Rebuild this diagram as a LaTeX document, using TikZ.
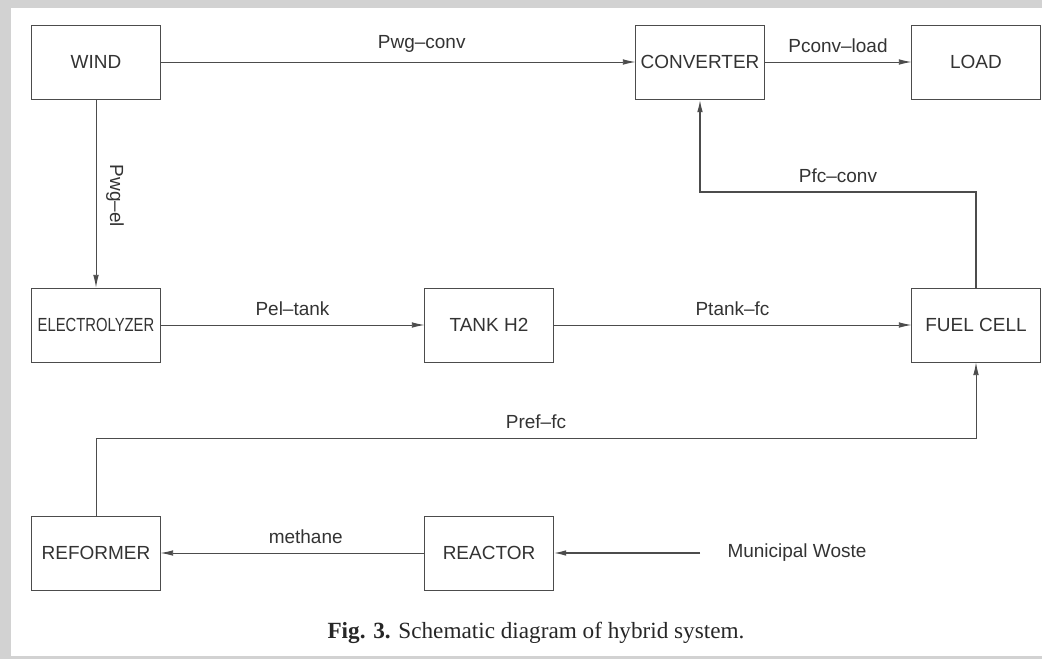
\documentclass[tikz,border=0pt]{standalone}
\usepackage{fontspec}
\setmainfont{Liberation Sans}
\newfontfamily\captionface{Liberation Serif}
\usetikzlibrary{arrows.meta}

\tikzset{
  unit/.style={draw=black!70, line width=0.7pt, minimum width=3.2cm,
    minimum height=1.85cm, inner sep=0pt, text=black!80,
    font=\fontsize{13.5}{16}\selectfont},
  flow/.style={draw=black!70, line width=0.6pt,
    -{Latex[length=9pt,width=4pt]}},
  heavyflow/.style={flow, line width=1.1pt},
  tag/.style={text=black!80, font=\fontsize{13.5}{16}\selectfont},
}

\begin{document}
\begin{tikzpicture}[x=0.025cm, y=-0.025cm]
\useasboundingbox (0,0) rectangle (1042,659);
% page frame
\fill[gray!35] (0,0) rectangle (1042,659);
\fill[white] (11,8) rectangle (1042,656);

% blocks
\node[unit] (wind) at (96,62) {WIND};
\node[unit] (conv) at (700,62) {CONVERTER};
\node[unit] (load) at (976,62) {LOAD};
\node[unit] (elec) at (96,325) {\scalebox{0.78}[1]{ELECTROLYZER}};
\node[unit] (tank) at (489,325) {TANK H2};
\node[unit] (fc) at (976,325) {FUEL CELL};
\node[unit] (ref) at (96,553) {REFORMER};
\node[unit] (reac) at (489,553) {REACTOR};
\node[tag] (waste) at (797,553) {Municipal Woste};
\coordinate (wasteend) at (700,553);

% connections
\draw[flow] (wind) -- node[tag, pos=0.55, above=3pt] {Pwg--conv} (conv);
\draw[flow] (conv) -- node[tag, above=3pt] {Pconv--load} (load);
\draw[flow] (wind) -- (elec);
\node[tag, rotate=-90] (pwgel) at (115,196) {Pwg--el};
\draw[flow] (elec) -- node[tag, above=3pt] {Pel--tank} (tank);
\draw[flow] (tank) -- node[tag, above=3pt] {Ptank--fc} (fc);
\draw[heavyflow] (fc.north) |- (700,192) node[tag, pos=0.75, above=3pt] {Pfc--conv} -- (conv.south);
\draw[flow] (ref.north) |- (976,438) node[tag, pos=0.75, above=3pt] {Pref--fc} -- (fc.south);
\draw[flow] (reac) -- node[tag, pos=0.45, above=3pt] {methane} (ref);
\draw[heavyflow] (wasteend) -- (reac);

% caption
\node[font=\captionface\fontsize{16.5}{18}\selectfont, text=black!85] (caption) at (536,633)
  {\textbf{Fig. 3.} Schematic diagram of hybrid system.};
\end{tikzpicture}
\end{document}
